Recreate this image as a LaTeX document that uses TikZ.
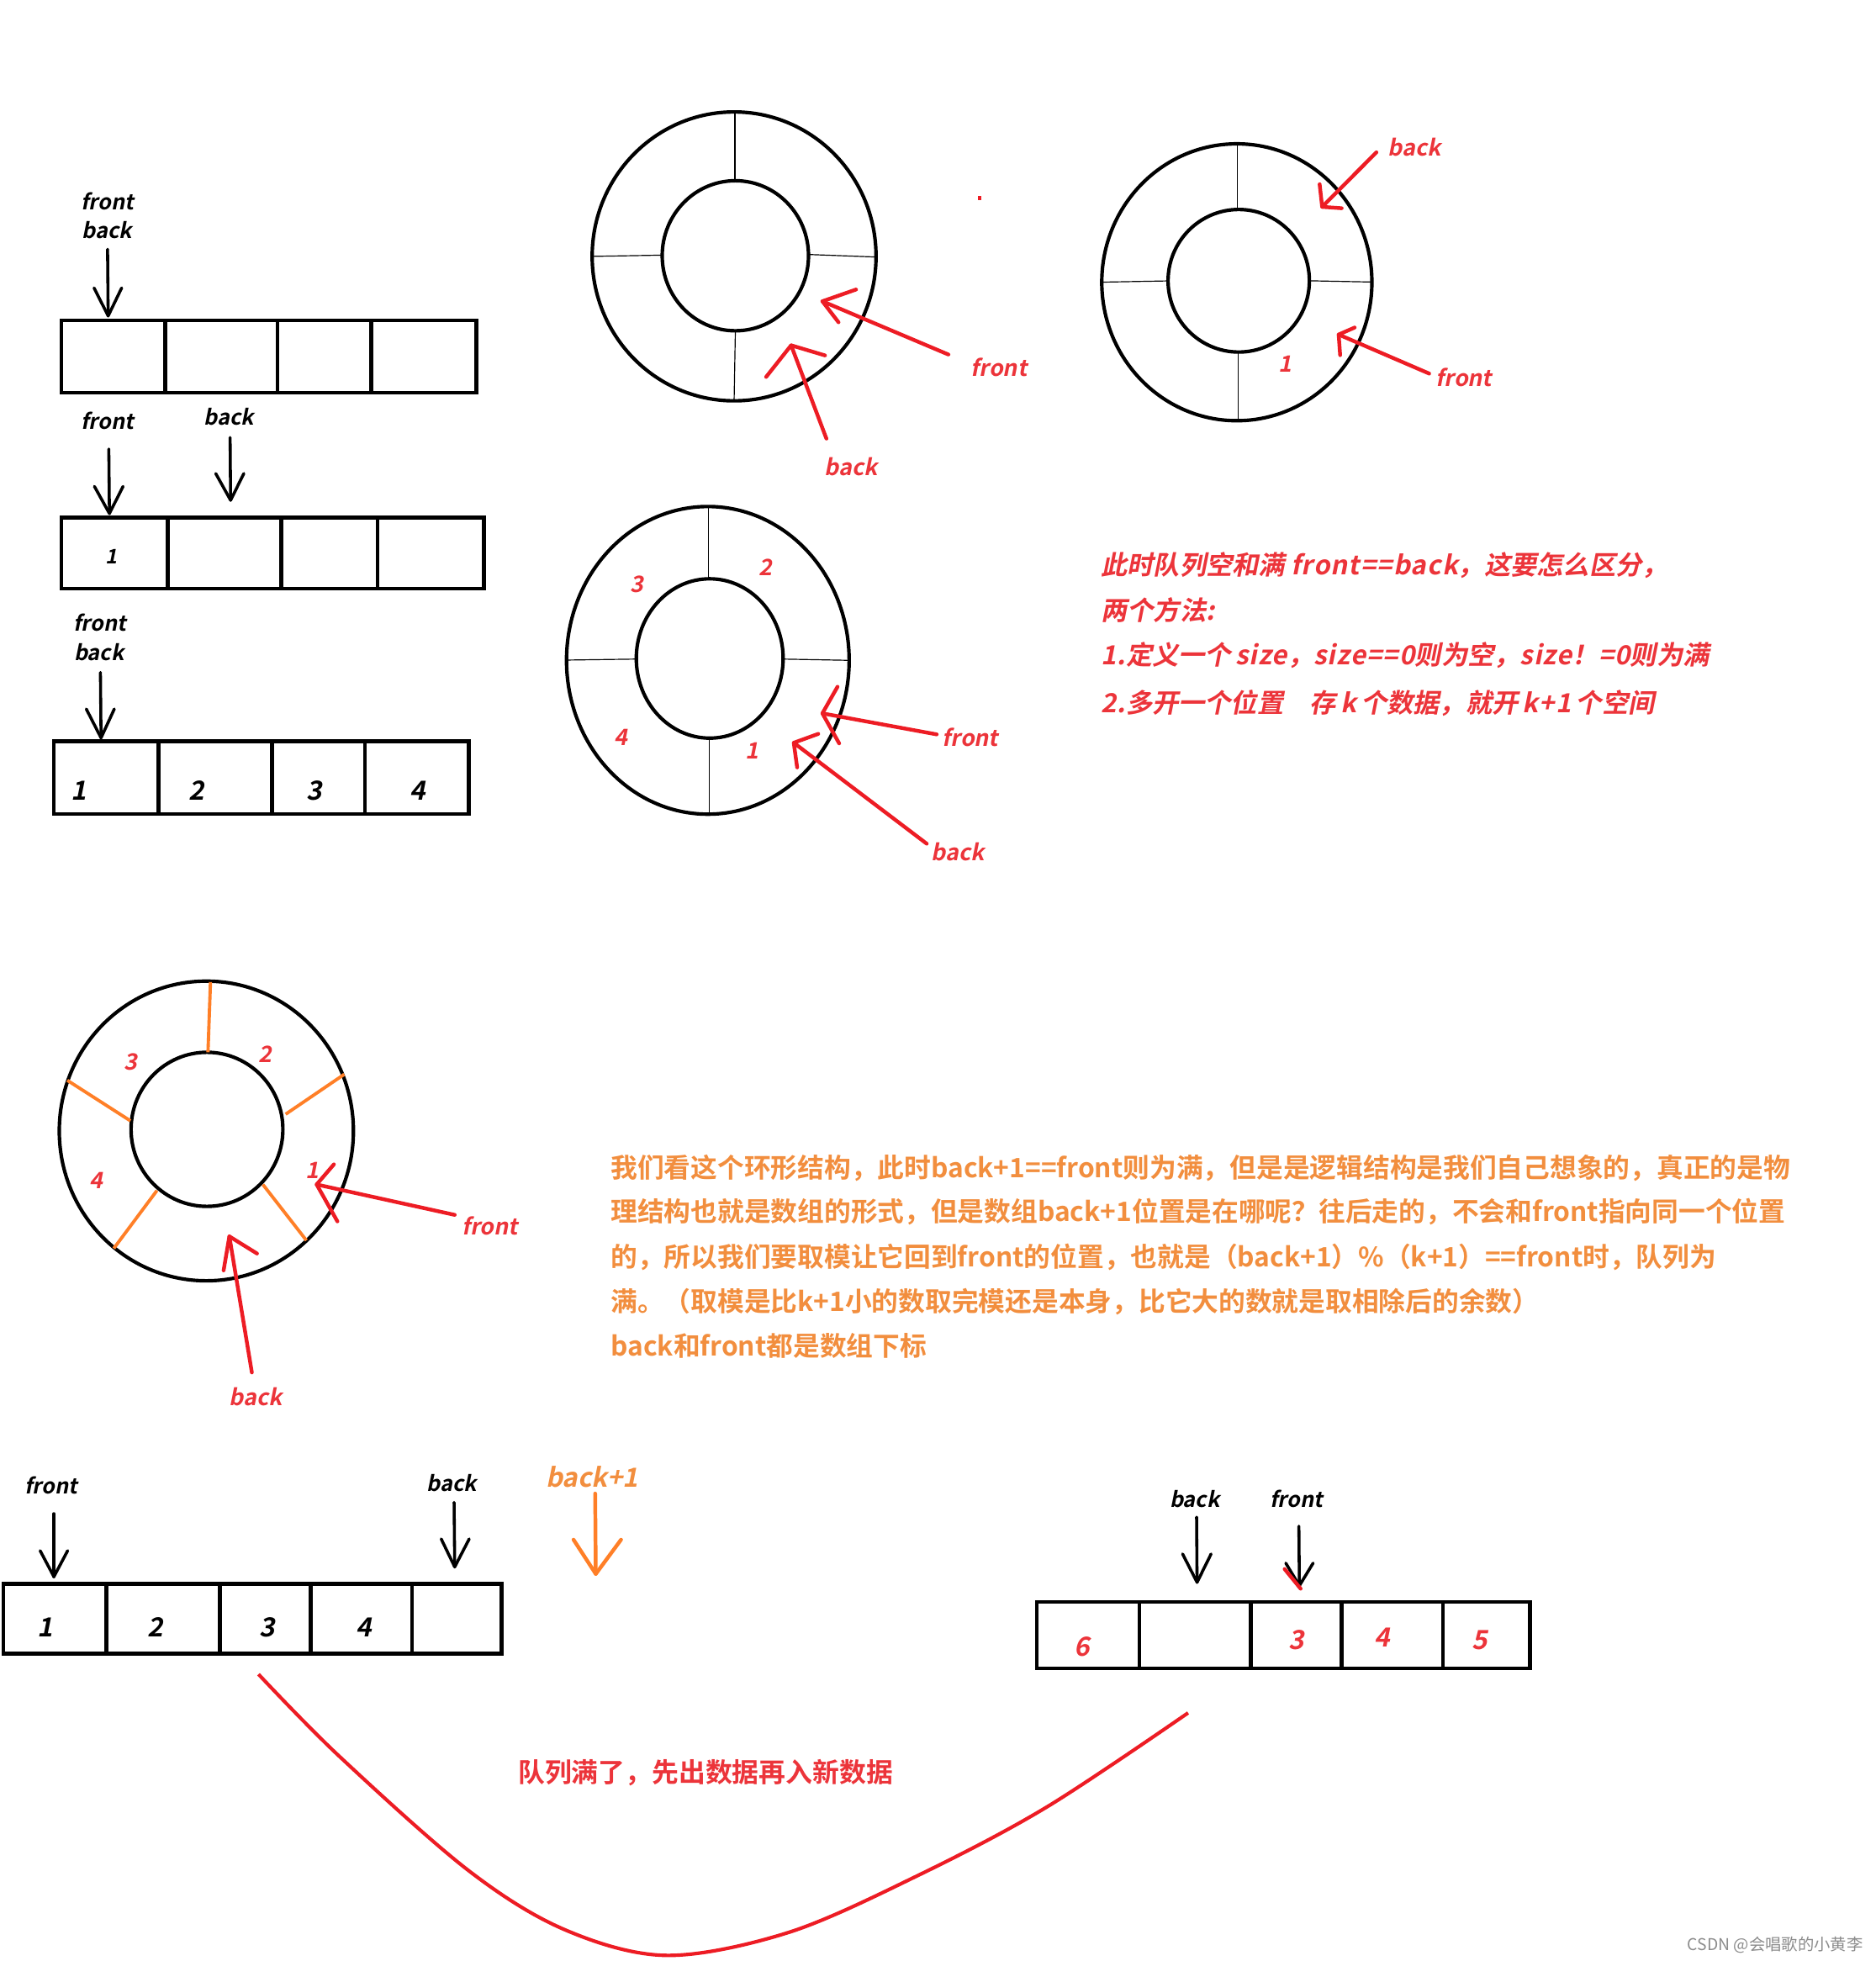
\documentclass[tikz,border=0pt]{standalone}
\usepackage{fontspec}
\newfontfamily\cjkb{Noto Sans CJK SC Bold}
\newfontfamily\cjkbi[FakeSlant=0.2]{Noto Sans CJK SC Bold}
\newfontfamily\cjkr{Noto Sans CJK SC}
\newcommand\lsp[1]{{\addfontfeature{LetterSpace=3.5}#1}}
\definecolor{pred}{RGB}{237,28,36}
\definecolor{tred}{RGB}{236,52,58}
\definecolor{porange}{RGB}{255,127,39}
\definecolor{torange}{RGB}{242,142,62}
\definecolor{wm}{RGB}{140,140,140}
\begin{document}
\begin{tikzpicture}[x=0.5pt,y=-0.5pt,
  box/.style={draw=black,line width=1.5pt},
  ring/.style={draw=black,line width=1.4pt},
  spoke/.style={draw=black,line width=0.4pt},
  ospoke/.style={draw=porange,line width=1.3pt},
  blk/.style={draw=black,line width=1.2pt,line cap=round,line join=round},
  rdarrow/.style={draw=pred,line width=1.5pt,line cap=round,line join=round},
  orarrow/.style={draw=porange,line width=1.5pt,line cap=round,line join=round},
  lab/.style={font=\cjkbi\fontsize{8.5}{10}\selectfont,inner sep=0pt},
  rlab/.style={font=\cjkbi\fontsize{9}{10}\selectfont,text=tred,inner sep=0pt},
  num/.style={font=\cjkbi\fontsize{10.5}{12}\selectfont,inner sep=0pt},
  rnum/.style={font=\cjkbi\fontsize{9}{10}\selectfont,text=tred,inner sep=0pt},
  rtext/.style={font=\cjkbi\fontsize{10.5}{12}\selectfont,text=tred,inner sep=0pt,anchor=west},
  otext/.style={font=\cjkb\fontsize{10.67}{12}\selectfont,text=torange,inner sep=0pt,anchor=west},
]
\useasboundingbox (0,0) rectangle (1500,1568);
\fill[white] (0,0) rectangle (1500,1568);

% ---------- array 1 ----------
\draw[box] (49,256) rectangle (381,314);
\foreach \x in {132,222,297} \draw[box] (\x,256) -- (\x,314);
\node[lab] (a1f) at (86,161) {front};
\node[lab] (a1b) at (85.5,184) {back};
\coordinate (a1s) at (86,199.3); \coordinate (a1t) at (86.5,252.6);
\draw[blk] (a1s) -- (a1t);
\draw[blk] (75.2,230.2) -- (a1t) -- (97.3,230.2);

% ---------- array 2 ----------
\draw[box] (49,414) rectangle (387,470.7);
\foreach \x in {134,225,302} \draw[box] (\x,414) -- (\x,470.7);
\node[num,font=\cjkbi\fontsize{8}{10}\selectfont] (a2n1) at (89,445) {1};
\node[lab] (a2f) at (85.8,336.7) {front};
\node[lab] (a2b) at (182.8,333) {back};
\coordinate (a2fs) at (87,359); \coordinate (a2ft) at (87.5,410.6);
\draw[blk] (a2fs) -- (a2ft);
\draw[blk] (75.5,388.9) -- (a2ft) -- (98.4,388.9);
\coordinate (a2bs) at (184,349.8); \coordinate (a2bt) at (184.4,400);
\draw[blk] (a2bs) -- (a2bt);
\draw[blk] (172.5,378.6) -- (a2bt) -- (195,378.6);

% ---------- array 3 ----------
\draw[box] (43,592.6) rectangle (375,651);
\foreach \x in {126.7,217.6,291.8} \draw[box] (\x,592.6) -- (\x,651);
\node[num] (a3n1) at (63,632) {1};
\node[num] (a3n2) at (157,632) {2};
\node[num] (a3n3) at (251,632) {3};
\node[num] (a3n4) at (334,632) {4};
\node[lab] (a3f) at (79.8,498) {front};
\node[lab] (a3b) at (79.2,521.5) {back};
\coordinate (a3s) at (80.3,537.7); \coordinate (a3t) at (80.8,590);
\draw[blk] (a3s) -- (a3t);
\draw[blk] (69,566.9) -- (a3t) -- (91.4,566.9);

% ---------- ring 1 ----------
\draw[ring] (587,205) ellipse [x radius=113.5, y radius=115.5];
\draw[ring] (588,204.5) ellipse [x radius=58.5, y radius=60];
\draw[spoke] (587.6,89.5) -- (587.6,144.5);
\draw[spoke] (588,264.5) -- (587,320.5);
\draw[spoke] (473.5,205) -- (529.8,204);
\draw[spoke] (646.8,203.5) -- (700.6,205.5);
\fill[pred] (782,156.5) rectangle (784.5,160);
\node[rlab] (r1f) at (798.8,293.6) {front};
\node[rlab] (r1b) at (680.4,373.2) {back};
\coordinate (r1fs) at (758.4,283.5); \coordinate (r1ft) at (657.6,240.9);
\draw[rdarrow] (r1fs) -- (r1ft);
\draw[rdarrow] (684.5,231.5) -- (r1ft) -- (670.5,257.7);
\coordinate (r1bs) at (660.8,350.7); \coordinate (r1bt) at (632.6,276.1);
\draw[rdarrow] (r1bs) -- (r1bt);
\draw[rdarrow] (612.6,301.4) -- (r1bt) -- (659.7,284.2);

% ---------- ring 2 ----------
\draw[ring] (989,225.7) ellipse [x radius=108, y radius=110.7];
\draw[ring] (990.5,224.5) ellipse [x radius=56.5, y radius=57];
\draw[spoke] (989.6,115) -- (989.6,167.5);
\draw[spoke] (989.8,281.5) -- (989.8,336.4);
\draw[spoke] (881,225.6) -- (934,224.6);
\draw[spoke] (1047,224.5) -- (1097,225.5);
\node[rnum] (r2n1) at (1027.7,290.8) {1};
\node[rlab] (r2b) at (1130.8,117.9) {back};
\node[rlab] (r2f) at (1170.6,302) {front};
\coordinate (r2bs) at (1100.6,121.8); \coordinate (r2bt) at (1057.2,165.4);
\draw[rdarrow] (r2bs) -- (r2bt);
\draw[rdarrow] (1055.2,147.3) -- (r2bt) -- (1072.8,166.5);
\coordinate (r2fs) at (1142.8,298.7); \coordinate (r2ft) at (1070.4,267.5);
\draw[rdarrow] (r2fs) -- (r2ft);
\draw[rdarrow] (1083.2,261.9) -- (r2ft) -- (1071.6,284);

% ---------- ring 3 ----------
\draw[ring] (566,528) ellipse [x radius=113, y radius=123];
\draw[ring] (567.5,526.5) ellipse [x radius=58.7, y radius=63.7];
\draw[spoke] (566.7,405) -- (566.7,462.8);
\draw[spoke] (567,590) -- (567,651);
\draw[spoke] (453,527.8) -- (508.8,527);
\draw[spoke] (626.1,527) -- (679,528);
\node[rnum] (r3n3) at (509.1,467.3) {3};
\node[rnum] (r3n2) at (612.3,453.8) {2};
\node[rnum] (r3n4) at (496.2,589.4) {4};
\node[rnum] (r3n1) at (601.3,600.6) {1};
\node[rlab] (r3f) at (775.9,589.4) {front};
\node[rlab] (r3b) at (766,681.3) {back};
\coordinate (r3fs) at (749,587.2); \coordinate (r3ft) at (657.6,570.4);
\draw[rdarrow] (r3fs) -- (r3ft);
\draw[rdarrow] (669.7,549.1) -- (r3ft) -- (671,594.4);
\coordinate (r3bs) at (741,674.6); \coordinate (r3bt) at (634.7,593.9);
\draw[rdarrow] (r3bs) -- (r3bt);
\draw[rdarrow] (654.3,586.8) -- (r3bt) -- (637.4,613.6);

% ---------- red explanation ----------
\node[rtext] (t1) at (880,452) {此时队列空和满 \lsp{front==back}，这要怎么区分，};
\node[rtext] (t2) at (880,488) {两个方法:};
\node[rtext] (t3) at (880,524) {\lsp{1.}定义一个\,\lsp{size}，\lsp{size==0}则为空，\lsp{size}！\lsp{=0}则为满};
\node[rtext] (t4) at (880,562) {\lsp{2.}多开一个位置\quad 存\,\lsp{k}\,个数据，就开\,\lsp{k+1}\,个空间};

% ---------- ring 4 ----------
\draw[ring] (165,904.3) ellipse [x radius=117.6, y radius=119.8];
\draw[ring] (165.5,903) ellipse [x radius=60.7, y radius=61.6];
\draw[ospoke] (168.3,785.2) -- (166.3,841.4);
\draw[ospoke] (275.3,859) -- (228.4,890.9);
\draw[ospoke] (53.8,863.8) -- (104.3,896.2);
\draw[ospoke] (125.5,951.9) -- (91,998.2);
\draw[ospoke] (210.2,947.1) -- (245,991.8);
\node[rnum] (r4n3) at (104.3,849.4) {3};
\node[rnum] (r4n2) at (211.9,842.9) {2};
\node[rnum] (r4n1) at (249.7,935.8) {1};
\node[rnum] (r4n4) at (76.7,943.7) {4};
\node[rlab] (r4f) at (391.7,980.2) {front};
\node[rlab] (r4b) at (204.7,1116.6) {back};
\coordinate (r4fs) at (363.6,971.4); \coordinate (r4ft) at (253.2,947.1);
\draw[rdarrow] (r4fs) -- (r4ft);
\draw[rdarrow] (267,931) -- (r4ft) -- (269.8,976.6);
\coordinate (r4bs) at (201.4,1097.4); \coordinate (r4bt) at (183.4,988.6);
\draw[rdarrow] (r4bs) -- (r4bt);
\draw[rdarrow] (205.5,1002.3) -- (r4bt) -- (178.8,1015.8);

% ---------- orange explanation ----------
\node[otext] (o1) at (488,934) {我们看这个环形结构，此时back+1==front则为满，但是是逻辑结构是我们自己想象的，真正的是物};
\node[otext] (o2) at (488,969) {理结构也就是数组的形式，但是数组back+1位置是在哪呢？往后走的，不会和front指向同一个位置};
\node[otext] (o3) at (488,1005) {的，所以我们要取模让它回到front的位置，也就是（back+1）\%（k+1）==front时，队列为};
\node[otext] (o4) at (488,1041) {满。（取模是比k+1小的数取完模还是本身，比它大的数就是取相除后的余数）};
\node[otext] (o5) at (488,1076) {back和front都是数组下标};

% ---------- bottom-left array ----------
\draw[box] (2.8,1266.3) rectangle (401,1322.3);
\foreach \x in {85.2,175.9,248.3,329.5} \draw[box] (\x,1266.3) -- (\x,1322.3);
\node[num] (b1n1) at (36.2,1301) {1};
\node[num] (b1n2) at (124.1,1301) {2};
\node[num] (b1n3) at (213.8,1301) {3};
\node[num] (b1n4) at (290.7,1301) {4};
\node[lab] (b1f) at (40.7,1188) {front};
\node[lab] (b1b) at (361,1186) {back};
\node[rlab,text=torange,font=\cjkbi\fontsize{10.5}{12}\selectfont] (b1p) at (473.5,1181.2) {back+1};
\coordinate (b1fs) at (43.1,1210.3); \coordinate (b1ft) at (43.1,1260.7);
\draw[blk] (b1fs) -- (b1ft);
\draw[blk] (32.1,1239.9) -- (b1ft) -- (54.1,1239.9);
\coordinate (b1bs) at (363.1,1201.3); \coordinate (b1bt) at (363.6,1252.9);
\draw[blk] (b1bs) -- (b1bt);
\draw[blk] (352.8,1230.5) -- (b1bt) -- (375.2,1230.5);
\coordinate (b1ps) at (475.9,1194.2); \coordinate (b1pt) at (476.4,1258.5);
\draw[orarrow] (b1ps) -- (b1pt);
\draw[orarrow] (458.6,1231.1) -- (b1pt) -- (496.6,1231.1);

% ---------- bottom-right array ----------
\draw[box] (829,1281) rectangle (1223.5,1334);
\foreach \x in {911.2,1000.2,1072.8,1153.8} \draw[box] (\x,1281) -- (\x,1334);
\node[rnum,font=\cjkbi\fontsize{10.5}{12}\selectfont] (b2n6) at (865.1,1316.5) {6};
\node[rnum,font=\cjkbi\fontsize{10.5}{12}\selectfont] (b2n3) at (1036.6,1311) {3};
\node[rnum,font=\cjkbi\fontsize{10.5}{12}\selectfont] (b2n4) at (1105.4,1309.5) {4};
\node[rnum,font=\cjkbi\fontsize{10.5}{12}\selectfont] (b2n5) at (1182.9,1311.5) {5};
\node[lab] (b2b) at (955.3,1198.3) {back};
\node[lab] (b2f) at (1036.6,1198.3) {front};
\coordinate (b2bs) at (956.8,1213); \coordinate (b2bt) at (957.2,1265.2);
\draw[blk] (b2bs) -- (b2bt);
\draw[blk] (945.6,1242.5) -- (b2bt) -- (968.4,1242.5);
\coordinate (b2fs) at (1038.6,1220.3); \coordinate (b2ft) at (1039,1267.9);
\draw[blk] (b2fs) -- (b2ft);
\draw[blk] (1028.1,1249.8) -- (b2ft) -- (1050,1249.8);
\draw[rdarrow] (1027.2,1254.6) -- (1040,1270.3);

% ---------- bottom curve ----------
\coordinate (cs) at (206.7,1338.7); \coordinate (ce) at (950,1369.6);
\draw[pred,line width=1.4pt] plot[smooth,tension=0.55] coordinates {(206.7,1338.7) (271,1404) (373.8,1495) (451,1542.7) (533,1563.5) (631,1545) (734,1499.6) (836.8,1445) (950,1369.6)};
\node[font=\cjkb\fontsize{10.7}{12}\selectfont,text=tred,inner sep=0pt] (ct) at (564.2,1417.7) {队列满了，先出数据再入新数据};

% ---------- watermark ----------
\node[font=\cjkr\fontsize{6.5}{8}\selectfont,text=wm,inner sep=0pt,anchor=east] (wmk) at (1490,1555) {CSDN @会唱歌的小黄李};
\end{tikzpicture}
\end{document}
